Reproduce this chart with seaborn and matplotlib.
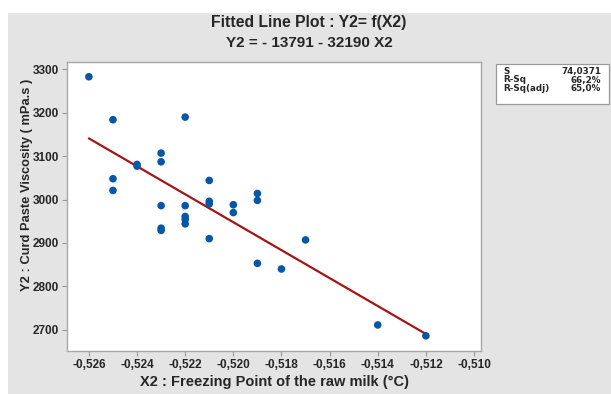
import numpy as np
import pandas as pd
import matplotlib
matplotlib.use("Agg")
import matplotlib.pyplot as plt
from matplotlib.patches import Rectangle
import seaborn as sns

# ---- data ----
x2 = [-0.526,
      -0.525, -0.525, -0.525,
      -0.524, -0.524,
      -0.523, -0.523, -0.523, -0.523, -0.523,
      -0.522, -0.522, -0.522, -0.522, -0.522,
      -0.521, -0.521, -0.521, -0.521,
      -0.520, -0.520,
      -0.519, -0.519, -0.519,
      -0.518, -0.517, -0.514, -0.512]
y2 = [3283,
      3184, 3048, 3021,
      3081, 3077,
      3107, 3087, 2986, 2934, 2929,
      3190, 2986, 2961, 2954, 2944,
      3044, 2996, 2990, 2910,
      2988, 2970,
      3014, 2998, 2853,
      2840, 2907, 2711, 2686]

intercept = -13791
slope = -32190

x_ticks = [-0.526, -0.524, -0.522, -0.520, -0.518, -0.516, -0.514, -0.512, -0.510]
y_ticks = [2700, 2800, 2900, 3000, 3100, 3200, 3300]

stat_names = ["S", "R-Sq", "R-Sq(adj)"]
stat_values = ["74,0371", "66,2%", "65,0%"]

title_1 = "Fitted Line Plot : Y2= f(X2)"
title_2 = "Y2 = - 13791 - 32190 X2"
x_label = "X2 : Freezing Point of the raw milk (°C)"
y_label = "Y2 : Curd Paste Viscosity ( mPa.s )"

# ---- figure ----
sns.set_theme(style="white")
plt.rcParams["font.family"] = ["Liberation Sans", "DejaVu Sans"]
plt.rcParams["font.weight"] = "bold"

W, H = 611, 394
fig = plt.figure(figsize=(W / 100, H / 100), dpi=100, facecolor="white")
bg = "#e4e4e4"
fig.patches.append(Rectangle((8 / W, 0), 1 - 8 / W, 1 - 13 / H,
                             transform=fig.transFigure, facecolor=bg,
                             edgecolor="none", zorder=-10))

ax = fig.add_axes([67 / W, 1 - 351 / H, (481 - 67) / W, (351 - 62) / H])
ax.set_facecolor("white")

df = pd.DataFrame({"x": x2, "y": y2})
fit_x = np.array(sorted(set(x2)))
fit_df = pd.DataFrame({"x": fit_x, "y": intercept + slope * fit_x})

sns.lineplot(data=fit_df, x="x", y="y", ax=ax, color="#a51515",
             linewidth=1.6, zorder=2)
sns.scatterplot(data=df, x="x", y="y", ax=ax, color="#0757a6", s=30,
                edgecolor="none", zorder=3)

ax.set_xlim(-0.52691, -0.50971)
ax.set_ylim(2651, 3317)
ax.set_xticks(x_ticks)
ax.set_xticklabels([f"{t:.3f}".replace(".", ",") for t in x_ticks])
ax.set_yticks(y_ticks)
ax.set_yticklabels([str(t) for t in y_ticks])
ax.tick_params(axis="both", which="both", direction="out", length=3.5,
               width=0.8, color="#999999", labelsize=8.5, pad=2,
               bottom=True, left=True)
for lab in ax.get_xticklabels() + ax.get_yticklabels():
    lab.set_fontweight("bold")
for sp in ax.spines.values():
    sp.set_color("#a8a8a8")
    sp.set_linewidth(1.0)

ax.set_xlabel(x_label, fontsize=10.5, fontweight="bold", labelpad=3)
ax.set_ylabel(y_label, fontsize=9.3, fontweight="bold")
ax.yaxis.set_label_coords(-0.082, 0.574)

fig.text(309 / W, 1 - 22 / H, title_1, ha="center", va="center",
         fontsize=11.3, fontweight="bold")
fig.text(309 / W, 1 - 43 / H, title_2, ha="center", va="center",
         fontsize=11, fontweight="bold")

# stats box
box = Rectangle((496 / W, 1 - 104 / H), (609 - 496) / W, (104 - 64) / H,
                transform=fig.transFigure, facecolor="white",
                edgecolor="#9a9a9a", linewidth=0.9)
fig.patches.append(box)
rows_y = [71.5, 80, 88.5]
for name, val, yy in zip(stat_names, stat_values, rows_y):
    fig.text(503 / W, 1 - yy / H, name, ha="left", va="center",
             fontsize=6.3, fontweight="bold", family="DejaVu Sans")
    fig.text(601 / W, 1 - yy / H, val, ha="right", va="center",
             fontsize=6.3, fontweight="bold", family="DejaVu Sans")

fig.savefig("out.png", dpi=100, facecolor="white")
